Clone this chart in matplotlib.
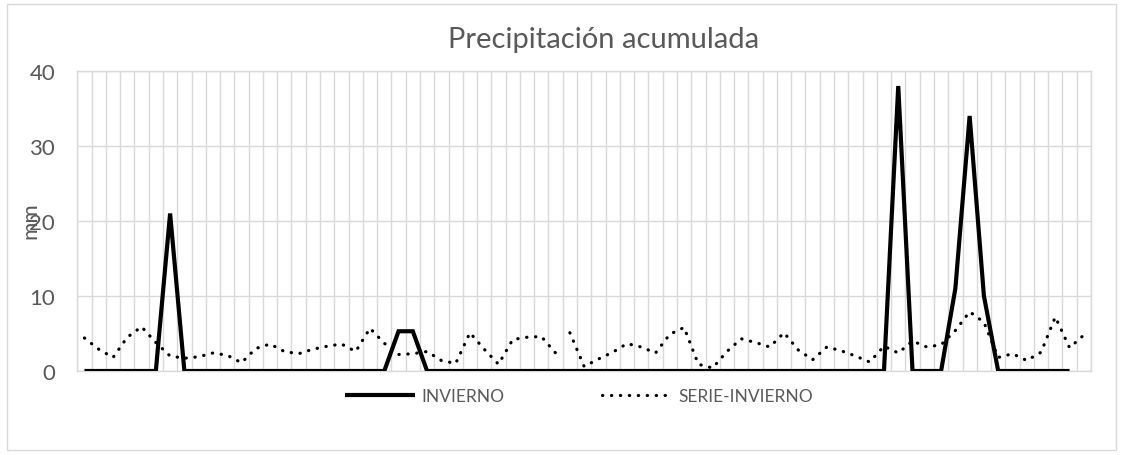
import numpy as np
import matplotlib
matplotlib.use("Agg")
import matplotlib.pyplot as plt
from matplotlib.patches import Rectangle

# Daily accumulated precipitation (mm)
INVIERNO = [
    0, 0, 0, 0, 0, 0, 21, 0, 0, 0,
    0, 0, 0, 0, 0, 0, 0, 0, 0, 0,
    0, 0, 5.3, 5.3, 0, 0, 0, 0, 0, 0,
    0, 0, 0, 0, 0, 0, 0, 0, 0, 0,
    0, 0, 0, 0, 0, 0, 0, 0, 0, 0,
    0, 0, 0, 0, 0, 0, 0, 38, 0, 0,
    0, 11, 34, 10, 0, 0, 0, 0, 0, 0,
]

SERIE_INVIERNO = [
    4.4, 2.9, 1.8, 4.5, 5.9, 3.8, 2.0, 1.7, 1.9, 2.4,
    2.1, 1.1, 3.0, 3.6, 2.6, 2.3, 2.9, 3.3, 3.6, 2.6,
    5.7, 3.7, 2.2, 2.3, 2.6, 1.4, 1.0, 5.1, 2.9, 0.9,
    4.2, 4.5, 4.6, 2.4, 5.1, 0.6, 1.6, 2.5, 3.65, 3.2,
    2.4, 4.9, 5.8, 0.9, 0.4, 2.6, 4.3, 3.8, 3.2, 5.1,
    2.8, 1.5, 3.2, 2.7, 2.0, 1.2, 3.3, 2.4, 4.0, 3.2,
    3.5, 5.4, 7.9, 6.5, 1.8, 2.3, 1.4, 2.5, 7.2, 3.1,
    4.8,
]
# the series line is broken before this index
SERIE_BREAK = 34

Y_TICKS = [0, 10, 20, 30, 40]

TEXT_COLOR = "#595959"
GRID_COLOR = "#D9D9D9"
FONT = ["Lato", "DejaVu Sans"]

W, H = 1123, 456


def main():
    plt.rcParams["font.family"] = FONT

    fig = plt.figure(figsize=(W / 100, H / 100), dpi=100)
    fig.patch.set_facecolor("white")

    # plot area in pixel coordinates
    left, right, top, bottom = 77.3, 1091, 72, 372
    ax = fig.add_axes([left / W, 1 - bottom / H, (right - left) / W, (bottom - top) / H])

    n = len(SERIE_INVIERNO)
    x_all = np.arange(n)

    ax.plot(np.arange(len(INVIERNO)), INVIERNO, color="black", lw=3.0,
            solid_joinstyle="miter", solid_capstyle="butt", label="INVIERNO", zorder=4)

    dot_style = dict(color="black", lw=2.3, linestyle=(0, (0.1, 2.7)),
                     dash_capstyle="round", zorder=3)
    ax.plot(x_all[:SERIE_BREAK], SERIE_INVIERNO[:SERIE_BREAK], label="SERIE-INVIERNO", **dot_style)
    ax.plot(x_all[SERIE_BREAK:], SERIE_INVIERNO[SERIE_BREAK:], **dot_style)

    ax.set_xlim(-0.5, n - 0.5)
    ax.set_ylim(0, 40)

    # category gridlines sit between categories
    ax.set_xticks(np.arange(-0.5, n, 1.0))
    ax.set_xticklabels([])
    ax.tick_params(axis="x", length=0)
    ax.set_yticks(Y_TICKS)
    ax.tick_params(axis="y", length=0, pad=16, labelsize=16, labelcolor=TEXT_COLOR)
    ax.grid(True, color=GRID_COLOR, lw=1.0)
    ax.set_axisbelow(True)
    for s in ax.spines.values():
        s.set_color(GRID_COLOR)
        s.set_linewidth(1.0)

    fig.text(604 / W, 1 - 40 / H, "Precipitación acumulada", ha="center", va="center",
             fontsize=21, color=TEXT_COLOR)
    fig.text(30 / W, 1 - 221 / H, "mm", rotation=90, ha="center", va="center",
             fontsize=16, color=TEXT_COLOR)

    ax.legend(loc="center", bbox_to_anchor=(579 / W, 1 - 397 / H),
              bbox_transform=fig.transFigure, ncol=2, frameon=False,
              fontsize=12.5, labelcolor=TEXT_COLOR, handlelength=4.0,
              handletextpad=0.4, columnspacing=5.6)

    # chart area border
    fig.patches.append(Rectangle((7 / W, 5 / H), 1109 / W, 446 / H,
                                 transform=fig.transFigure, fill=False,
                                 edgecolor=GRID_COLOR, lw=1.0))

    fig.savefig("out.png", dpi=100, facecolor="white")
    plt.close(fig)


if __name__ == "__main__":
    main()
